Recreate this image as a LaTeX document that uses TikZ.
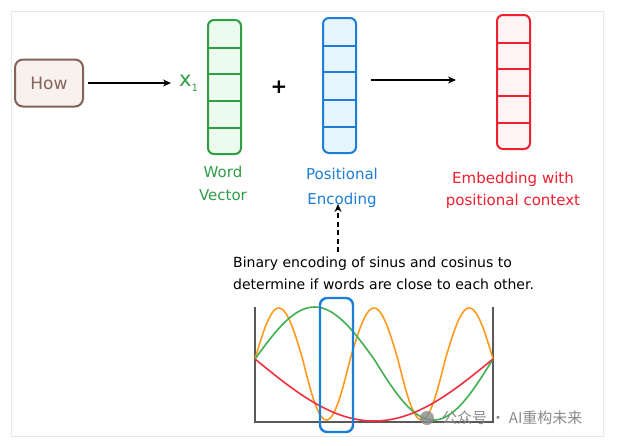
\documentclass[tikz,border=0pt]{standalone}
\usepackage{fontspec}
\setmainfont{DejaVu Sans}
\newfontfamily\cjk{Noto Sans CJK SC}
\usetikzlibrary{arrows.meta,calc}
\definecolor{gstroke}{HTML}{2F9E44}
\definecolor{gfill}{HTML}{EBFBEE}
\definecolor{bstroke}{HTML}{1C7ED6}
\definecolor{bfill}{HTML}{E7F5FF}
\definecolor{rstroke}{HTML}{F0202E}
\definecolor{rfill}{HTML}{FFF5F5}
\definecolor{brstroke}{HTML}{846358}
\definecolor{brfill}{HTML}{F8F1EE}
\definecolor{corange}{HTML}{FF9A1F}
\definecolor{cgreen}{HTML}{40B050}
\definecolor{cred}{HTML}{F03040}
\definecolor{framegray}{HTML}{E8E8E8}
\definecolor{wmgray}{HTML}{8A8A8A}
\begin{document}
\begin{tikzpicture}[x=1pt,y=-1pt,
  vecbox/.style={draw, line width=2pt, rounded corners=6pt, minimum width=33pt, minimum height=134pt, inner sep=0pt},
  arr/.style={-{Stealth[length=8pt,width=7pt]}, line width=1.6pt, black},
  lbl/.style={font=\fontsize{15}{23}\selectfont, align=center, inner sep=0pt},
  curve/.style={line width=1.6pt, smooth}
]
\useasboundingbox (0,0) rectangle (619,445);
\fill[white] (0,0) rectangle (619,445);
\draw[framegray, line width=1pt] (11,11) rectangle (603,436);

% How box
\node[draw=brstroke, fill=brfill, line width=2pt, rounded corners=8pt, minimum width=68pt, minimum height=47pt, text=brstroke, font=\fontsize{17}{17}\selectfont] (how) at (49,83) {How};
\node[text=gstroke, inner sep=0pt, anchor=west] (x1) at (179,83) {{\fontsize{21}{21}\selectfont x}\raisebox{-5pt}{\fontsize{10}{10}\selectfont 1}};
\draw[arr, shorten >=8pt] ([xshift=4pt]how.east) -- (how.east -| x1.west);

% vectors
\node[vecbox, draw=gstroke, fill=gfill] (wv) at (224.5,87) {};
\node[vecbox, draw=bstroke, fill=bfill, minimum height=135pt] (pe) at (339.5,85.5) {};
\node[vecbox, draw=rstroke, fill=rfill] (emb) at (513.5,82) {};
\foreach \v/\c in {wv/gstroke, pe/bstroke, emb/rstroke}{
  \foreach \f in {0.215,0.405,0.605,0.8}{
    \draw[\c, line width=2pt] ($(\v.north west)!\f!(\v.south west)$) -- ($(\v.north east)!\f!(\v.south east)$);
  }
}
\node[font=\bfseries\fontsize{20}{20}\selectfont, inner sep=0pt] (plus) at (279,87) {+};
\draw[arr] (pe.east |- 0,80) ++(14,0) -- ++(85,0) coordinate (arrend);

% labels
\node[lbl, text=gstroke] (wvl) at (223,183) {Word\\Vector};
\node[lbl, text=bstroke, font=\fontsize{15}{25}\selectfont] (pel) at (342,188) {Positional\\Encoding};
\node[lbl, text=rstroke, font=\fontsize{15}{22}\selectfont] (embl) at (513,190) {Embedding with\\positional context};

% binary text
\node[anchor=north west, align=left, inner sep=0pt, font=\fontsize{14}{22}\selectfont] (bin) at (233,257) {Binary encoding of sinus and cosinus to\\determine if words are close to each other.};
\coordinate (dashS) at (338,252);
\draw[line width=1.6pt, dash pattern=on 5pt off 3.5pt, -{Stealth[length=8pt,width=7pt]}] (dashS) -- ([yshift=4pt]dashS |- pel.south);

% chart
\draw[gray!70!black, line width=1.2pt] (255,307) -- (255,422) -- (493,422) -- (493,307);
\draw[curve, corange] plot[domain=0:1, samples=160] ({255+238*\x}, {359 - 51*max(sin(900*\x),0) - 61*min(sin(900*\x),0)});
\draw[curve, cgreen] plot[domain=0:1, samples=100] ({255+238*\x}, {359 - 52*max(sin(360*\x),0) - 61*min(sin(360*\x),0)});
\draw[curve, cred] plot[domain=0:1, samples=80] ({255+238*\x}, {359 + 62*sin(180*\x)});
\node[draw=bstroke, line width=2.4pt, rounded corners=7pt, minimum width=33pt, minimum height=134pt, inner sep=0pt] (hl) at (336.5,365) {};

% watermark
\fill[wmgray, opacity=0.8] (427,418) circle (7pt);
\node[anchor=west, text=wmgray, font=\cjk\fontsize{15}{15}\selectfont, inner sep=0pt] (wm) at (442,418) {公众号 · AI重构未来};
\end{tikzpicture}
\end{document}
